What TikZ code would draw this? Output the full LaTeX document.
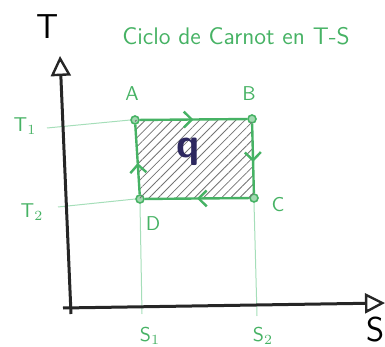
\documentclass[tikz,border=0pt]{standalone}
\usetikzlibrary{arrows.meta, patterns.meta, decorations.markings}

\definecolor{pen}{RGB}{70,178,100}
\definecolor{guide}{RGB}{165,222,185}
\definecolor{ink}{RGB}{45,40,95}

\begin{document}
\begin{tikzpicture}[
	x=0.5pt, y=-0.5pt,
	ax/.style = {draw=black!85, line width=1.5pt, -{Triangle[open, length=10pt, width=10pt, line width=1.2pt]}},
	g/.style = {draw=guide, line width=0.5pt},
	c/.style = {draw=pen, line width=1.2pt, postaction={decorate},
		decoration={markings, mark=at position #1 with {\arrow{Straight Barb[length=4pt, width=8pt]}}}},
	c/.default = 0.5,
	p/.style = {circle, draw=pen, fill=pen!50, line width=0.8pt, inner sep=0pt, minimum size=4pt},
	l/.style = {text=pen, font=\sffamily}
	]
	
	\useasboundingbox (0, 0) rectangle (385, 347);
	
	% ===== ===== ===== ===== =====
	
	% Nodes
	\coordinate	(Tb)	at	(71, 314);
	\coordinate	(Tt)	at	(60, 56);
	\coordinate	(Sb)	at	(63, 308);
	\coordinate	(St)	at	(385, 303);
	
	\node[font=\LARGE\sffamily]	(T)	at	(48, 27)	{T};
	\node[font=\LARGE\sffamily]	(S)	at	(376, 330)	{S};
	\node[l, font=\large\sffamily]	(title)	at	(236, 36)	{Ciclo de Carnot en T-S};
	
	\node[p]	(A)	at	(135, 120)	{};
	\node[p]	(B)	at	(252, 119)	{};
	\node[p]	(C)	at	(254, 198)	{};
	\node[p]	(D)	at	(140, 199)	{};
	
	\node[l]	(lA)	at	(132, 94)	{A};
	\node[l]	(lB)	at	(249, 94)	{B};
	\node[l]	(lC)	at	(278, 205)	{C};
	\node[l]	(lD)	at	(153, 224)	{D};
	
	\node[l]	(T1)	at	(25, 126)	{T$_1$};
	\node[l]	(T2)	at	(32, 212)	{T$_2$};
	\node[l]	(S1)	at	(150, 336)	{S$_1$};
	\node[l]	(S2)	at	(263, 336)	{S$_2$};
	
	\coordinate	(t1)	at	(47, 128);
	\coordinate	(t2)	at	(58, 207);
	\coordinate	(s1)	at	(142, 314);
	\coordinate	(s2)	at	(257, 316);
	
	
	
	% Lines
	\fill[pattern={Lines[angle=45, distance=3.2pt, line width=0.4pt]}, pattern color=black!55]
		(A.center) -- (B.center) -- (C.center) -- (D.center) -- cycle;
	
	\draw[g]	(t1)	--	(A.west);
	\draw[g]	(t2)	--	(D.west);
	\draw[g]	(D.south)	--	(s1);
	\draw[g]	(C.south)	--	(s2);
	
	\draw[ax]	(Tb)	--	(Tt);
	\draw[ax]	(Sb)	--	(St);
	
	\draw[c]	(A)	--	(B);
	\draw[c=0.55]	(B)	--	(C);
	\draw[c]	(C)	--	(D);
	\draw[c=0.45]	(D)	--	(A);
	
	\node[text=ink, font=\huge\bfseries\sffamily]	(q)	at	(188, 152)	{q};
	
\end{tikzpicture}
\end{document}
